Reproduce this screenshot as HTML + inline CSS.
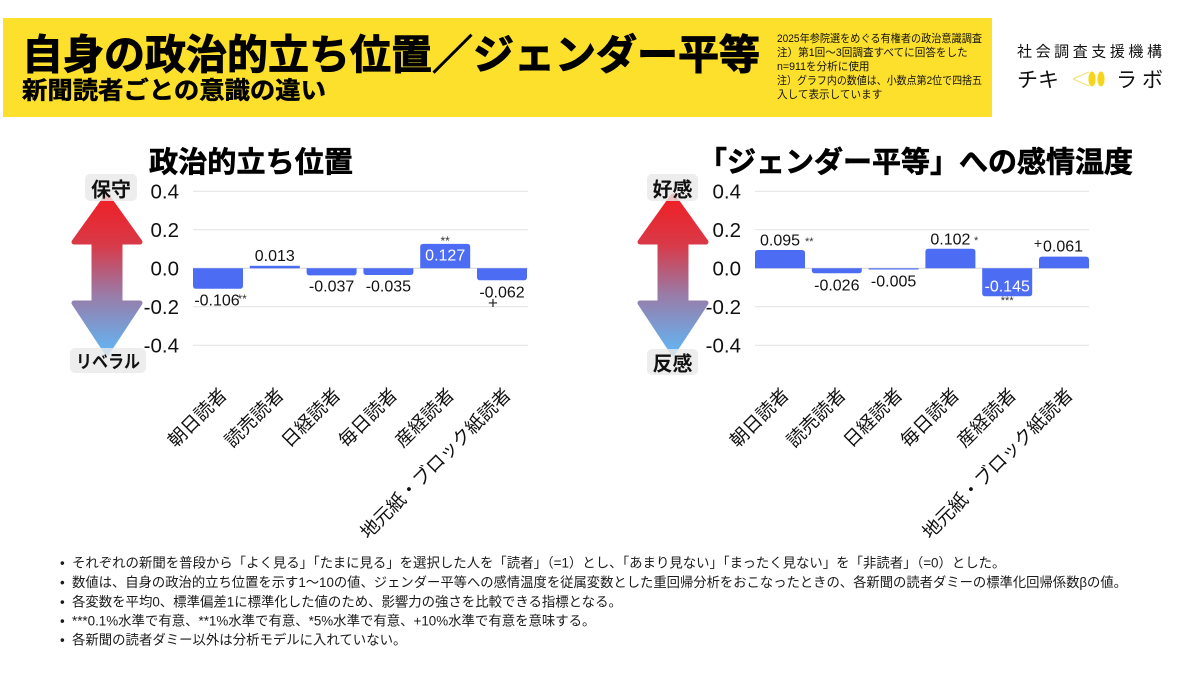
<!DOCTYPE html>
<html>
<head>
<meta charset="utf-8">
<style>
  html,body{margin:0;padding:0;background:#fff;}
  svg{display:block;}
  text{font-family:"Liberation Sans","Noto Sans CJK JP",sans-serif;}
  .jp{font-family:"Noto Sans CJK JP","Liberation Sans",sans-serif;}
</style>
</head>
<body>
<svg width="1200" height="675" viewBox="0 0 1200 675" xmlns="http://www.w3.org/2000/svg">
  <defs>
    <linearGradient id="ga" gradientUnits="userSpaceOnUse" x1="0" y1="193" x2="0" y2="356">
      <stop offset="0" stop-color="#f21c22"/>
      <stop offset="0.32" stop-color="#d83a48"/>
      <stop offset="0.62" stop-color="#9a7aa6"/>
      <stop offset="1" stop-color="#5fb9f8"/>
    </linearGradient>
  </defs>

  <!-- Header banner -->
  <rect x="3" y="18" width="989" height="99" fill="#fde02b"/>
  <text x="22" y="51" dominant-baseline="central" font-size="41" font-weight="bold" fill="#000" stroke="#000" stroke-width="1" textLength="738" lengthAdjust="spacingAndGlyphs" class="jp">自身の政治的立ち位置／ジェンダー平等</text>
  <text x="22" y="88" dominant-baseline="central" font-size="24" font-weight="bold" fill="#000" stroke="#000" stroke-width="0.5" textLength="304" lengthAdjust="spacingAndGlyphs" class="jp">新聞読者ごとの意識の違い</text>

  <g font-size="10.6" fill="#111">
    <text x="777" y="39" dominant-baseline="central" textLength="205" lengthAdjust="spacingAndGlyphs">2025年参院選をめぐる有権者の政治意識調査</text>
    <text x="777" y="53" dominant-baseline="central">注）第1回～3回調査すべてに回答をした</text>
    <text x="777" y="67" dominant-baseline="central">n=911を分析に使用</text>
    <text x="777" y="81" dominant-baseline="central" textLength="205" lengthAdjust="spacingAndGlyphs">注）グラフ内の数値は、小数点第2位で四捨五</text>
    <text x="777" y="95" dominant-baseline="central">入して表示しています</text>
  </g>

  <!-- Logo -->
  <text x="1017" y="51" dominant-baseline="central" font-size="15" fill="#111" textLength="145" lengthAdjust="spacing" class="jp">社会調査支援機構</text>
  <text x="1017" y="79" dominant-baseline="central" font-size="21" fill="#111" textLength="42" lengthAdjust="spacing" class="jp">チキ</text>
  <text x="1116" y="79" dominant-baseline="central" font-size="21" fill="#111" textLength="47" lengthAdjust="spacing" class="jp">ラボ</text>
  <g>
    <path d="M1073,79 L1089,72 M1073,79 L1089,86" stroke="#f3e07a" stroke-width="1.2" fill="none"/>
    <ellipse cx="1092" cy="79" rx="3.6" ry="7.5" fill="#f7d51c"/>
    <ellipse cx="1101" cy="79" rx="3.6" ry="7.5" fill="#f7d51c"/>
  </g>

  <!-- ================= LEFT CHART ================= -->
  <text x="149" y="160" dominant-baseline="central" font-size="29" font-weight="bold" fill="#000" stroke="#000" stroke-width="0.6" textLength="204" lengthAdjust="spacingAndGlyphs" class="jp">政治的立ち位置</text>

  <!-- arrow -->
  <path d="M107,196 L140,242 L120,242 L120,303 L140,303 L107,353 L74,303 L94,303 L94,242 L74,242 Z" fill="url(#ga)" stroke="url(#ga)" stroke-width="5" stroke-linejoin="round"/>
  <rect x="85" y="174" width="52" height="27" rx="5" fill="rgba(233,233,233,0.82)"/>
  <text x="111" y="188" text-anchor="middle" dominant-baseline="central" font-size="20" font-weight="bold" fill="#111" class="jp">保守</text>
  <rect x="70" y="348" width="76" height="25" rx="5" fill="rgba(233,233,233,0.82)"/>
  <text x="108" y="361" text-anchor="middle" dominant-baseline="central" font-size="18" font-weight="bold" fill="#111" textLength="64" lengthAdjust="spacingAndGlyphs" class="jp">リベラル</text>

  <!-- grid -->
  <g stroke="#e2e2e2" stroke-width="1">
    <line x1="193" y1="191.3" x2="528" y2="191.3"/>
    <line x1="193" y1="229.8" x2="528" y2="229.8"/>
    <line x1="193" y1="268.3" x2="528" y2="268.3" stroke="#d6d6d6"/>
    <line x1="193" y1="306.8" x2="528" y2="306.8"/>
    <line x1="193" y1="345.3" x2="528" y2="345.3"/>
  </g>
  <g font-size="20.5" fill="#111" text-anchor="end">
    <text x="179" y="192" dominant-baseline="central">0.4</text>
    <text x="179" y="230.5" dominant-baseline="central">0.2</text>
    <text x="179" y="269" dominant-baseline="central">0.0</text>
    <text x="179" y="307.5" dominant-baseline="central">-0.2</text>
    <text x="179" y="346" dominant-baseline="central">-0.4</text>
  </g>

  <!-- bars left -->
  <g fill="#4d6cf4">
    <path d="M193,268.3 V285.7 Q193,288.7 196,288.7 H240 Q243,288.7 243,285.7 V268.3 Z"/>
    <rect x="249.8" y="265.8" width="50" height="2.5"/>
    <path d="M306.6,268.3 V272.4 Q306.6,275.4 309.6,275.4 H353.6 Q356.6,275.4 356.6,272.4 V268.3 Z"/>
    <path d="M363.4,268.3 V272 Q363.4,275 366.4,275 H410.4 Q413.4,275 413.4,272 V268.3 Z"/>
    <path d="M420.2,268.3 V246.9 Q420.2,243.9 423.2,243.9 H467.2 Q470.2,243.9 470.2,246.9 V268.3 Z"/>
    <path d="M477,268.3 V277.2 Q477,280.2 480,280.2 H524 Q527,280.2 527,277.2 V268.3 Z"/>
  </g>

  <!-- value labels left -->
  <g font-size="16" fill="#111" text-anchor="middle">
    <text x="217" y="301" dominant-baseline="central">-0.106</text>
    <text x="274.8" y="256.7" dominant-baseline="central">0.013</text>
    <text x="331.6" y="287" dominant-baseline="central">-0.037</text>
    <text x="388.4" y="287" dominant-baseline="central">-0.035</text>
    <text x="445.2" y="256" dominant-baseline="central" fill="#fff">0.127</text>
    <text x="502" y="293" dominant-baseline="central">-0.062</text>
  </g>
  <g font-size="12" fill="#333">
    <text x="237.5" y="299" dominant-baseline="central">**</text>
    <text x="445.2" y="241" text-anchor="middle" dominant-baseline="central">**</text>
  </g>
  <text x="493" y="303" text-anchor="middle" dominant-baseline="central" font-size="17" fill="#222">+</text>

  <!-- category labels left -->
  <g font-size="18.5" fill="#111" text-anchor="end" class="jp">
    <text transform="translate(228,396) rotate(-45)">朝日読者</text>
    <text transform="translate(284.8,396) rotate(-45)">読売読者</text>
    <text transform="translate(341.6,396) rotate(-45)">日経読者</text>
    <text transform="translate(398.4,396) rotate(-45)">毎日読者</text>
    <text transform="translate(455.2,396) rotate(-45)">産経読者</text>
    <text transform="translate(512,396) rotate(-45)">地元紙・ブロック紙読者</text>
  </g>

  <!-- ================= RIGHT CHART ================= -->
  <text x="698" y="160" dominant-baseline="central" font-size="29" font-weight="bold" fill="#000" stroke="#000" stroke-width="0.6" textLength="435" lengthAdjust="spacingAndGlyphs" class="jp">「ジェンダー平等」への感情温度</text>

  <g transform="translate(566,0)">
    <path d="M107,196 L140,242 L120,242 L120,303 L140,303 L107,353 L74,303 L94,303 L94,242 L74,242 Z" fill="url(#ga)" stroke="url(#ga)" stroke-width="5" stroke-linejoin="round"/>
  </g>
  <rect x="647" y="174" width="51" height="27" rx="5" fill="rgba(233,233,233,0.82)"/>
  <text x="672.5" y="188" text-anchor="middle" dominant-baseline="central" font-size="20" font-weight="bold" fill="#111" class="jp">好感</text>
  <rect x="647" y="349" width="51" height="26" rx="5" fill="rgba(233,233,233,0.82)"/>
  <text x="672.5" y="362" text-anchor="middle" dominant-baseline="central" font-size="20" font-weight="bold" fill="#111" class="jp">反感</text>

  <g stroke="#e2e2e2" stroke-width="1">
    <line x1="755" y1="191.3" x2="1089" y2="191.3"/>
    <line x1="755" y1="229.8" x2="1089" y2="229.8"/>
    <line x1="755" y1="268.3" x2="1089" y2="268.3" stroke="#d6d6d6"/>
    <line x1="755" y1="306.8" x2="1089" y2="306.8"/>
    <line x1="755" y1="345.3" x2="1089" y2="345.3"/>
  </g>
  <g font-size="20.5" fill="#111" text-anchor="end">
    <text x="741" y="192" dominant-baseline="central">0.4</text>
    <text x="741" y="230.5" dominant-baseline="central">0.2</text>
    <text x="741" y="269" dominant-baseline="central">0.0</text>
    <text x="741" y="307.5" dominant-baseline="central">-0.2</text>
    <text x="741" y="346" dominant-baseline="central">-0.4</text>
  </g>

  <g fill="#4d6cf4">
    <path d="M755,268.3 V253 Q755,250 758,250 H802 Q805,250 805,253 V268.3 Z"/>
    <path d="M811.8,268.3 V270.3 Q811.8,273.3 814.8,273.3 H858.8 Q861.8,273.3 861.8,270.3 V268.3 Z"/>
    <rect x="868.6" y="268.3" width="50" height="1.2"/>
    <path d="M925.4,268.3 V251.7 Q925.4,248.7 928.4,248.7 H972.4 Q975.4,248.7 975.4,251.7 V268.3 Z"/>
    <path d="M982.2,268.3 V293.2 Q982.2,296.2 985.2,296.2 H1029.2 Q1032.2,296.2 1032.2,293.2 V268.3 Z"/>
    <path d="M1039,268.3 V259.6 Q1039,256.6 1042,256.6 H1086 Q1089,256.6 1089,259.6 V268.3 Z"/>
  </g>

  <g font-size="16" fill="#111" text-anchor="middle">
    <text x="780" y="241" dominant-baseline="central">0.095</text>
    <text x="836.8" y="286" dominant-baseline="central">-0.026</text>
    <text x="893.6" y="282" dominant-baseline="central">-0.005</text>
    <text x="950.4" y="240" dominant-baseline="central">0.102</text>
    <text x="1007.2" y="287" dominant-baseline="central" fill="#fff">-0.145</text>
    <text x="1063" y="247" dominant-baseline="central">0.061</text>
  </g>
  <g font-size="11" fill="#333">
    <text x="805" y="242" dominant-baseline="central">**</text>
    <text x="974" y="241" dominant-baseline="central">*</text>
    <text x="1007.2" y="301" text-anchor="middle" dominant-baseline="central">***</text>
  </g>
  <text x="1038" y="243" text-anchor="middle" dominant-baseline="central" font-size="14" fill="#222">+</text>

  <g font-size="18.5" fill="#111" text-anchor="end" class="jp">
    <text transform="translate(790,396) rotate(-45)">朝日読者</text>
    <text transform="translate(846.8,396) rotate(-45)">読売読者</text>
    <text transform="translate(903.6,396) rotate(-45)">日経読者</text>
    <text transform="translate(960.4,396) rotate(-45)">毎日読者</text>
    <text transform="translate(1017.2,396) rotate(-45)">産経読者</text>
    <text transform="translate(1074,396) rotate(-45)">地元紙・ブロック紙読者</text>
  </g>

  <!-- ================= NOTES ================= -->
  <g font-size="13.4" fill="#1a1a1a">
    <text x="60" y="563" dominant-baseline="central">•</text>
    <text x="72" y="563" dominant-baseline="central">それぞれの新聞を普段から「よく見る」「たまに見る」を選択した人を「読者」（=1）とし、「あまり見ない」「まったく見ない」を「非読者」（=0）とした。</text>
    <text x="60" y="582.5" dominant-baseline="central">•</text>
    <text x="72" y="582.5" dominant-baseline="central" textLength="1055" lengthAdjust="spacingAndGlyphs">数値は、自身の政治的立ち位置を示す1～10の値、ジェンダー平等への感情温度を従属変数とした重回帰分析をおこなったときの、各新聞の読者ダミーの標準化回帰係数βの値。</text>
    <text x="60" y="602" dominant-baseline="central">•</text>
    <text x="72" y="602" dominant-baseline="central">各変数を平均0、標準偏差1に標準化した値のため、影響力の強さを比較できる指標となる。</text>
    <text x="60" y="621" dominant-baseline="central">•</text>
    <text x="72" y="621" dominant-baseline="central">***0.1%水準で有意、**1%水準で有意、*5%水準で有意、+10%水準で有意を意味する。</text>
    <text x="60" y="640" dominant-baseline="central">•</text>
    <text x="72" y="640" dominant-baseline="central">各新聞の読者ダミー以外は分析モデルに入れていない。</text>
  </g>
</svg>
</body>
</html>
